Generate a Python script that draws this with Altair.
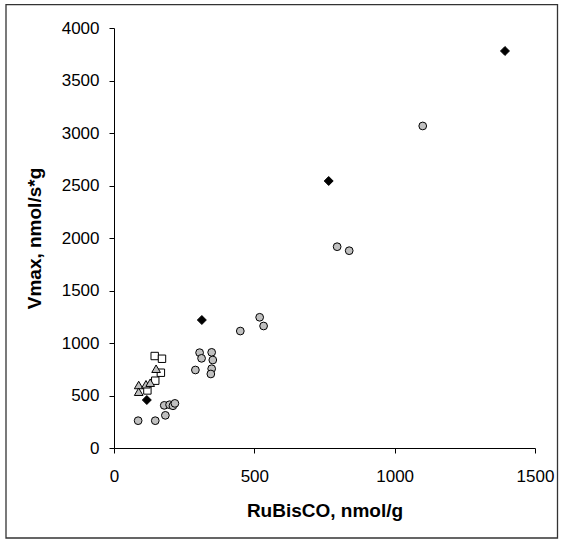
import altair as alt
import pandas as pd

# RuBisCO content (nmol/g) vs. Vmax (nmol/s*g), four sample groups
circle_x = [86, 147, 183, 179, 198, 210, 217, 290, 305, 312, 348, 352, 348, 345, 450, 519, 533, 795, 838, 1100]
circle_y = [260, 260, 311, 406, 412, 402, 425, 743, 908, 854, 911, 838, 755, 705, 1114, 1245, 1162, 1917, 1879, 3067]

square_x = [145, 171, 167, 147, 119]
square_y = [876, 850, 717, 641, 548]

triangle_x = [88, 88, 114, 129, 150]
triangle_y = [600, 536, 607, 622, 755]

diamond_x = [117, 313, 765, 1393]
diamond_y = [457, 1219, 2543, 3781]

x_ticks = [0, 500, 1000, 1500]
y_ticks = [0, 500, 1000, 1500, 2000, 2500, 3000, 3500, 4000]

FONT = "Liberation Sans"

x_enc = alt.X(
    "x:Q",
    scale=alt.Scale(domain=[0, 1500], nice=False, zero=False),
    axis=alt.Axis(
        values=x_ticks,
        format="d",
        title="RuBisCO, nmol/g",
        grid=False,
        domainColor="black",
        tickColor="black",
        tickSize=5,
        labelFont=FONT,
        labelFontSize=17,
        labelColor="black",
        labelBaseline="alphabetic",
        labelPadding=28.5,
        labelFlush=False,
        titleFont=FONT,
        titleFontSize=19,
        titleFontWeight="bold",
        titleColor="black",
        titleBaseline="alphabetic",
        titleY=68,
    ),
)
y_enc = alt.Y(
    "y:Q",
    scale=alt.Scale(domain=[0, 4000], nice=False, zero=False),
    axis=alt.Axis(
        values=y_ticks,
        format="d",
        title="Vmax, nmol/s*g",
        grid=False,
        domainColor="black",
        tickColor="black",
        tickSize=5,
        labelFont=FONT,
        labelFontSize=17,
        labelColor="black",
        labelPadding=10,
        labelFlush=False,
        titleFont=FONT,
        titleFontSize=19,
        titleFontWeight="bold",
        titleColor="black",
        titleBaseline="alphabetic",
        titleAngle=-90,
        titleAlign="center",
        titleX=-74,
        titleY=210,
    ),
)


def series(xs, ys, shape, fill, size):
    df = pd.DataFrame({"x": xs, "y": ys})
    return (
        alt.Chart(df)
        .mark_point(shape=shape, filled=True, fill=fill, stroke="black",
                    strokeWidth=1, size=size, opacity=1)
        .encode(x=x_enc, y=y_enc)
    )


circles = series(circle_x, circle_y, "circle", "#c0c0c0", 60)
squares = series(square_x, square_y, "square", "white", 55)
triangles = series(triangle_x, triangle_y, "triangle-up", "#c0c0c0", 75)
diamonds = series(diamond_x, diamond_y, "diamond", "black", 80)

frame = (
    alt.Chart(pd.DataFrame({"a": [0]}))
    .mark_rect(fill="transparent", stroke="#333333", strokeWidth=1.3)
    .encode(x=alt.value(-108), x2=alt.value(443.5), y=alt.value(-23.3), y2=alt.value(510))
)

chart = (
    alt.layer(frame, circles, squares, triangles, diamonds)
    .properties(
        width=421,
        height=420,
        autosize=alt.AutoSizeParams(type="none"),
        padding={"left": 114, "top": 28, "right": 29, "bottom": 91},
        background="white",
    )
    .configure_view(stroke=None)
)

chart.save("out.html", embed_options={"renderer": "svg", "actions": False})
